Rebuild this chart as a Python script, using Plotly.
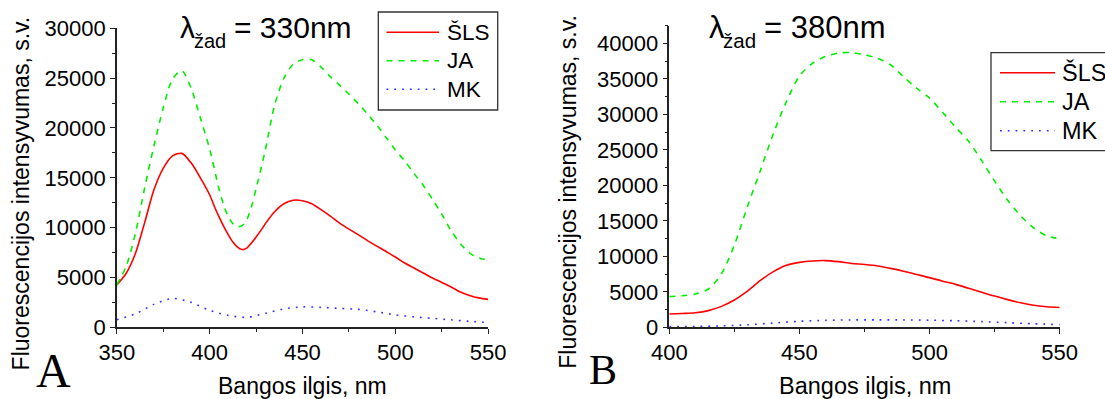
import plotly.graph_objects as go

W, H = 1105, 399

# ---------------- data ----------------
wl_a_sls = [350, 355, 360, 365, 370, 375, 380, 385, 390, 395, 400, 402.5, 405,
            407.5, 410, 412.5, 415, 417.5, 420, 422.5, 425, 427.5, 430, 435,
            440, 445, 450, 455, 460, 465, 470, 475, 480, 485, 490, 495, 500,
            505, 510, 515, 520, 525, 530, 535, 540, 545, 550]
sls_a = [4250, 5400, 7400, 10500, 13800, 15950, 17200, 17450, 16500, 15000,
         13300, 12150, 11100, 10150, 9300, 8550, 8050, 7800, 7950, 8450, 9050,
         9700, 10400, 11600, 12400, 12750, 12700, 12400, 11800, 11150, 10450,
         9850, 9300, 8700, 8150, 7600, 7050, 6450, 5950, 5450, 4950, 4500,
         4050, 3550, 3200, 2950, 2800]
wl_a_ja = [350, 355, 360, 365, 370, 375, 380, 385, 390, 395, 400, 405, 407.5,
           410, 412.5, 415, 417.5, 420, 422.5, 425, 430, 435, 440, 445, 450,
           455, 460, 465, 470, 475, 480, 485, 490, 495, 500, 505, 510, 515,
           520, 525, 530, 535, 540, 545, 550]
ja_a = [4250, 6100, 9400, 14000, 18200, 22000, 24900, 25750, 24000, 21000,
        17900, 13900, 12300, 11100, 10400, 10100, 10200, 10800, 12100, 13900,
        17800, 22300, 25000, 26400, 26850, 26850, 26100, 25150, 24300, 23400,
        22450, 21400, 20300, 19050, 17800, 16700, 15450, 14250, 12850, 11350,
        9700, 8400, 7450, 6950, 6750]
wl_a_mk = list(range(350, 551, 10))
mk_a = [750, 1350, 2300, 2900, 2500, 1700, 1200, 1000, 1400, 1850, 2050,
        2000, 1900, 1800, 1550, 1250, 1050, 900, 750, 600, 480]

wl_b = list(range(400, 551, 5))
sls_b = [1880, 1950, 2050, 2350, 2950, 3850, 5100, 6600, 7850, 8750, 9150,
         9350, 9400, 9250, 9000, 8850, 8650, 8300, 7900, 7450, 7000, 6500,
         6050, 5500, 4950, 4400, 3900, 3450, 3100, 2900, 2800]
ja_b = [4330, 4450, 4700, 5400, 7500, 11600, 17000, 22100, 27300, 31800,
        35400, 37200, 38150, 38650, 38700, 38400, 37900, 37000, 35300, 33700,
        32300, 30300, 28200, 26200, 23500, 20600, 17900, 15700, 14000, 12900,
        12450]
wl_b_mk = list(range(400, 551, 10))
mk_b = [100, 120, 200, 350, 600, 850, 980, 1040, 1050, 1040, 1000, 920, 800,
        650, 500, 380]

series_names = ["ŠLS", "JA", "MK"]
title_sym = "λ"
title_sub = "žad"
title_rest = ["= 330nm", "= 380nm"]
panel_labels = ["A", "B"]
y_title = "Fluorescencijos intensyvumas, s.v."
x_title = "Bangos ilgis, nm"

# ---------------- styles ----------------
FONT = "Liberation Sans, Arial, sans-serif"
SERIF = "Liberation Serif, Times New Roman, serif"
RED, GREEN, BLUE = "#ff0000", "#00ee00", "#3333ff"
DASH_JA = "6px,6px"
DASH_MK = "1.8px,6px"


def px(x):
    return x / W


def py(y):
    return 1 - y / H


fig = go.Figure()


def add_series(xs, ys, color, dash, xa, ya, name):
    fig.add_trace(go.Scatter(
        x=xs, y=ys, mode="lines", name=name, showlegend=False,
        line=dict(color=color, width=1.6, dash=dash, shape="spline", smoothing=0.8),
        xaxis=xa, yaxis=ya, hoverinfo="skip"))


add_series(wl_a_sls, sls_a, RED, "solid", "x", "y", series_names[0])
add_series(wl_a_ja, ja_a, GREEN, DASH_JA, "x", "y", series_names[1])
add_series(wl_a_mk, mk_a, BLUE, DASH_MK, "x", "y", series_names[2])
add_series(wl_b, sls_b, RED, "solid", "x2", "y2", series_names[0])
add_series(wl_b, ja_b, GREEN, DASH_JA, "x2", "y2", series_names[1])
add_series(wl_b_mk, mk_b, BLUE, DASH_MK, "x2", "y2", series_names[2])

tickfont = dict(family=FONT, size=22, color="black")


def axis(minor_dtick, **kw):
    d = dict(showline=True, linecolor="#222222", linewidth=1.5, ticks="outside",
             ticklen=5, tickwidth=1.3, tickcolor="#222222", showgrid=False,
             zeroline=False, tickfont=tickfont, mirror=False, tickformat="d",
             minor=dict(ticks="outside", ticklen=3, tickwidth=1.2,
                        tickcolor="#222222", dtick=minor_dtick, showgrid=False))
    d.update(kw)
    return d


ax_a = axis(25, domain=[px(116.8), px(488.2)], range=[350, 550], dtick=50,
            tick0=350, anchor="y")
ay_a = axis(2500, domain=[py(327.3), py(28.3)], range=[0, 30000], dtick=5000,
            anchor="x")
ax_b = axis(25, domain=[px(669.3), px(1059.7)], range=[400, 550], dtick=50,
            tick0=400, anchor="y2")
ay_b = axis(2500, domain=[py(327.3), py(25.7)], range=[0, 42500], dtick=5000,
            anchor="x2")

annotations = []
shapes = []


def text(x, y, s, size, family=FONT, xanchor="center", yanchor="middle", angle=0):
    annotations.append(dict(
        x=px(x), y=py(y), xref="paper", yref="paper", text=s, showarrow=False,
        xanchor=xanchor, yanchor=yanchor, textangle=angle,
        font=dict(family=family, size=size, color="black")))


# titles: symbol, lowered subscript, rest
def title(x_sym, x_sub, x_rest, rest, size, sub_size):
    text(x_sym, 27.5, title_sym, size, xanchor="left")
    text(x_sub, 41, title_sub, sub_size, xanchor="left")
    text(x_rest, 27.5, rest, size, xanchor="left")


title(177.5, 191.5, 232, title_rest[0], 30, 20)
title(706.5, 720.5, 762, title_rest[1], 31, 20.5)
# axis titles
text(21.4, 193, y_title, 23, angle=-90)
text(567.7, 192, y_title, 23, angle=-90)
text(302.7, 386, x_title, 23)
text(865, 386, x_title, 23.5)
# panel labels
text(53, 399, panel_labels[0], 48, family=SERIF, yanchor="bottom")
text(603, 370, panel_labels[1], 42, family=SERIF)


# manual legends
def legend(x0, y0, x1, y1, lx0, lx1, rows, tx, fsize):
    shapes.append(dict(type="rect", xref="paper", yref="paper",
                       x0=px(x0), x1=px(x1), y0=py(y1), y1=py(y0),
                       line=dict(color="#333333", width=1.3), fillcolor="white",
                       layer="above"))
    styles = [(RED, "solid"), (GREEN, DASH_JA), (BLUE, DASH_MK)]
    for (c, d), yy, nm in zip(styles, rows, series_names):
        shapes.append(dict(type="line", xref="paper", yref="paper",
                           x0=px(lx0), x1=px(lx1), y0=py(yy), y1=py(yy),
                           line=dict(color=c, width=1.6, dash=d), layer="above"))
        text(tx, yy, nm, fsize, xanchor="left")


legend(378.3, 12, 497.7, 110, 386.5, 439, [32.3, 60.7, 89.3], 445, 22.5)
legend(991, 52.7, 1112, 150.7, 1000, 1055, [72.7, 101.7, 130.7], 1059.5, 23.5)

fig.update_layout(
    width=W, height=H,
    margin=dict(l=0, r=0, t=0, b=0, autoexpand=False),
    paper_bgcolor="white", plot_bgcolor="white",
    showlegend=False,
    xaxis=ax_a, yaxis=ay_a, xaxis2=ax_b, yaxis2=ay_b,
    annotations=annotations, shapes=shapes,
)

fig.write_html("out.html")
